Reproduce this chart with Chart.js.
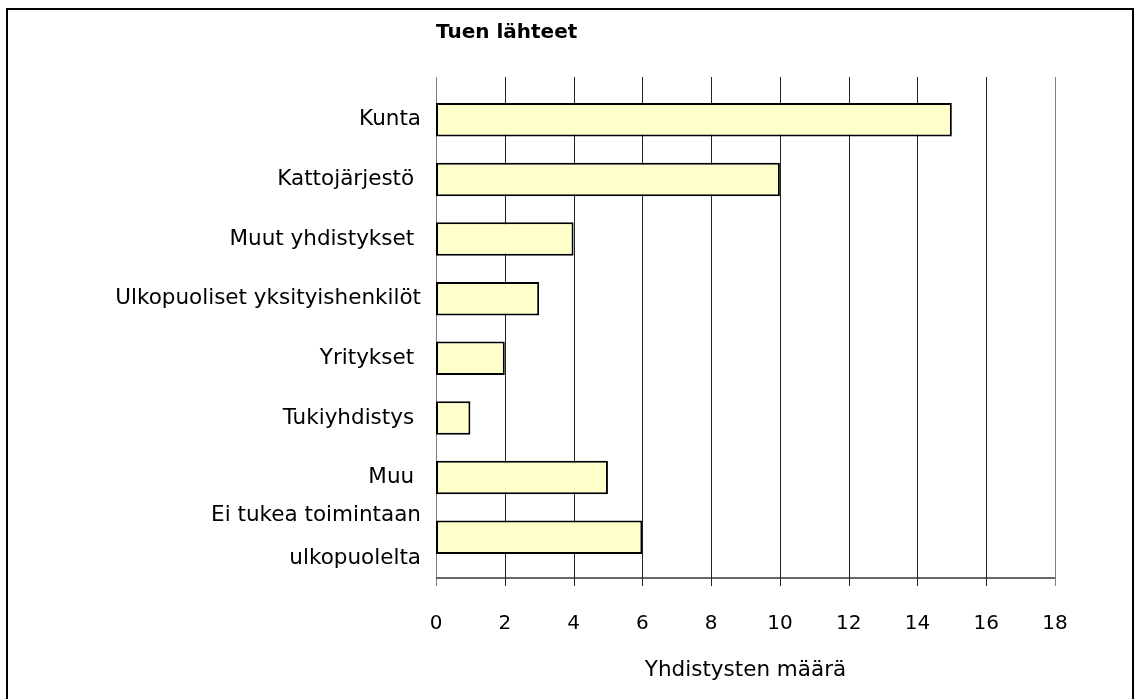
<!DOCTYPE html>
<html><head><meta charset="utf-8">
<script src="https://cdn.jsdelivr.net/npm/chart.js@4.4.1/dist/chart.umd.min.js"></script>
<style>
html,body{margin:0;padding:0;background:#fff;}
#wrap{position:relative;width:1135px;height:699px;}
#frame{position:absolute;left:6px;top:8px;width:1128px;height:700px;border:2px solid #000;border-bottom:none;box-sizing:border-box;pointer-events:none;}
canvas{position:absolute;left:0;top:0;}
</style></head>
<body>
<div id="wrap"><canvas id="c" width="1135" height="699"></canvas><div id="frame"></div></div>
<script>
const categories = ["Kunta", "Kattojärjestö ", "Muut yhdistykset ", "Ulkopuoliset yksityishenkilöt", "Yritykset ", "Tukiyhdistys ", "Muu ", ["Ei tukea toimintaan", "ulkopuolelta"]];
const values = [15, 10, 4, 3, 2, 1, 5, 6];
const xTicks = [0, 2, 4, 6, 8, 10, 12, 14, 16, 18];
const chartTitle = "Tuen lähteet";
const xTitle = "Yhdistysten määrä";

const FONT = "'DejaVu Sans', Tahoma, sans-serif";

const gridPlugin = {
  id: 'excelGrid',
  beforeDatasetsDraw(chart) {
    const {ctx, chartArea, scales} = chart;
    const x = scales.x;
    const top = chartArea.top - 13, bottom = chartArea.bottom + 11;
    ctx.save();
    ctx.lineWidth = 1;
    xTicks.forEach((v, i) => {
      const px = Math.round(x.getPixelForValue(v)) + 0.5;
      ctx.strokeStyle = (i === 0 || i === xTicks.length - 1) ? '#808080' : '#222';
      ctx.beginPath(); ctx.moveTo(px, top); ctx.lineTo(px, bottom + 8); ctx.stroke();
    });
    ctx.strokeStyle = '#333';
    ctx.lineWidth = 1.5;
    ctx.beginPath();
    ctx.moveTo(x.getPixelForValue(xTicks[0]), bottom);
    ctx.lineTo(x.getPixelForValue(xTicks[xTicks.length - 1]), bottom);
    ctx.stroke();
    ctx.restore();
  }
};

new Chart(document.getElementById('c'), {
  type: 'bar',
  data: {
    labels: categories,
    datasets: [{
      data: values,
      backgroundColor: '#FFFFCC',
      borderColor: '#000',
      borderWidth: 2,
      borderSkipped: false,
      categoryPercentage: 1,
      barPercentage: 0.56
    }]
  },
  options: {
    indexAxis: 'y',
    responsive: false,
    animation: false,
    devicePixelRatio: 1,
    layout: {padding: {left: 0, right: 80, top: 0, bottom: 0}},
    plugins: {
      legend: {display: false},
      tooltip: {enabled: false},
      title: {
        display: true, text: chartTitle, align: 'start', fullSize: false,
        color: '#000', font: {family: FONT, size: 20, weight: 'bold', lineHeight: 1.2},
        padding: {top: 21, bottom: 45}
      }
    },
    scales: {
      x: {
        type: 'linear', min: 0, max: 18,
        afterBuildTicks(s) { s.ticks = xTicks.map(v => ({value: v})); },
        grid: {display: false, drawTicks: false},
        border: {display: false},
        ticks: {color: '#000', padding: 45, font: {family: FONT, size: 20}},
        title: {display: true, text: xTitle, color: '#000', font: {family: FONT, size: 21.5, lineHeight: 1.2}, padding: {top: 0, bottom: 16}},
        afterFit(s) { s.height = 132; }
      },
      y: {
        type: 'category',
        grid: {display: false, drawTicks: false},
        border: {display: false},
        ticks: {color: '#000', padding: 15, font: {family: FONT, size: 21.5, lineHeight: 2.0}, autoSkip: false},
        afterFit(s) { s.width = 436; }
      }
    }
  },
  plugins: [gridPlugin]
});
</script>
</body></html>
